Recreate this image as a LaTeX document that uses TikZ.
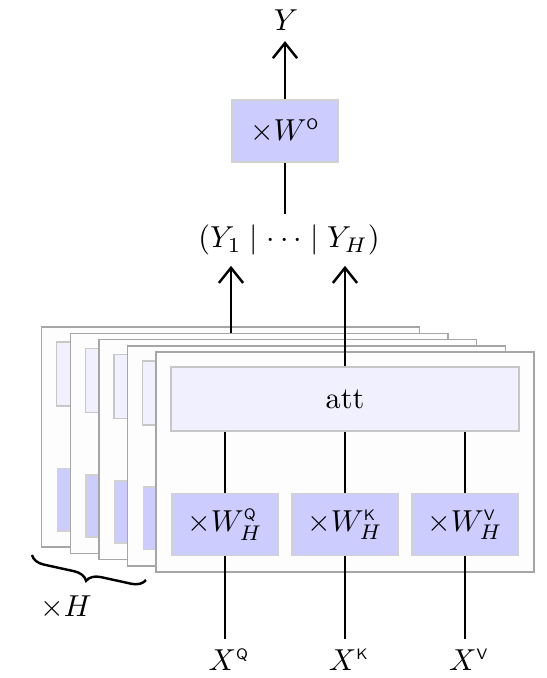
\documentclass[tikz,border=0pt]{standalone}
\usetikzlibrary{arrows.meta,decorations.pathreplacing}
\newcommand\backpanel[1]{%
  \begin{scope}[shift={(-28.6*#1,-6.2*#1)}]
    \node[panel] (panel#1) at (345,462) {};
    \node[attbox] (att#1) at (345,399) {};
    \node[wbox] (wq#1) at (225,524.5) {};
    \node[wbox] (wk#1) at (345,524.5) {};
    \node[wbox] (wv#1) at (465,524.5) {};
  \end{scope}}
\begin{document}
\begin{tikzpicture}[x=0.33pt,y=-0.33pt,
  panel/.style={draw=black!35,fill=black!0.8,line width=0.5pt,minimum width=124.7pt,minimum height=72.6pt,inner sep=0pt},
  attbox/.style={draw=black!22,fill=blue!6,line width=0.5pt,minimum width=114.8pt,minimum height=21.1pt,inner sep=0pt},
  wbox/.style={draw=black!18,fill=blue!20,line width=0.5pt,minimum width=35pt,minimum height=20.5pt,inner sep=0pt},
  conn/.style={thick},
  arr/.style={thick,-{Straight Barb[length=5pt,width=8pt]}}]
\useasboundingbox (0,0) rectangle (547,678);

% output part
\node (y) at (286,20) {$Y$};
\node[wbox] (wo) at (285,131) {$\times W^{\mathsf{\scriptscriptstyle O}}$};
\node (lab) at (289,240) {$(Y_1 \mid \cdots \mid Y_H)$};
\draw[arr] (wo) -- (wo.north |- y.south);
\draw[conn] (wo.south) -- (wo.south |- lab.north);

% heads (back ones, contents hidden)
\backpanel{4}
\backpanel{3}
\coordinate (h1) at (231,333.4);
\draw[arr] (h1) -- (h1 |- lab.south);
\backpanel{2}
\backpanel{1}

% front head
\node[panel] (panel0) at (345,462) {};
\node[attbox] (att0) at (345,399) {att};
\node[wbox] (wq0) at (225,524.5) {$\times W_H^{\mathsf{\scriptscriptstyle Q}}$};
\node[wbox] (wk0) at (345,524.5) {$\times W_H^{\mathsf{\scriptscriptstyle K}}$};
\node[wbox] (wv0) at (465,524.5) {$\times W_H^{\mathsf{\scriptscriptstyle V}}$};

\draw[arr] (att0.north) -- (att0.north |- lab.south);
\foreach \n in {wq,wk,wv}{
  \draw[conn] (\n0.north |- att0.south) -- (\n0.north);
}
\node (xq) at (229,660) {$X^{\mathsf{\scriptscriptstyle Q}}$};
\node (xk) at (349,660) {$X^{\mathsf{\scriptscriptstyle K}}$};
\node (xv) at (469,660) {$X^{\mathsf{\scriptscriptstyle V}}$};
\draw[conn] (wq0.south) -- (wq0.south |- xq.north);
\draw[conn] (wk0.south) -- (wk0.south |- xk.north);
\draw[conn] (wv0.south) -- (wv0.south |- xv.north);

% brace
\draw[thick,decorate,decoration={brace,amplitude=4.5pt}] (146,580) -- (32,555);
\node (xh) at (66,607) {$\times H$};
\end{tikzpicture}
\end{document}
